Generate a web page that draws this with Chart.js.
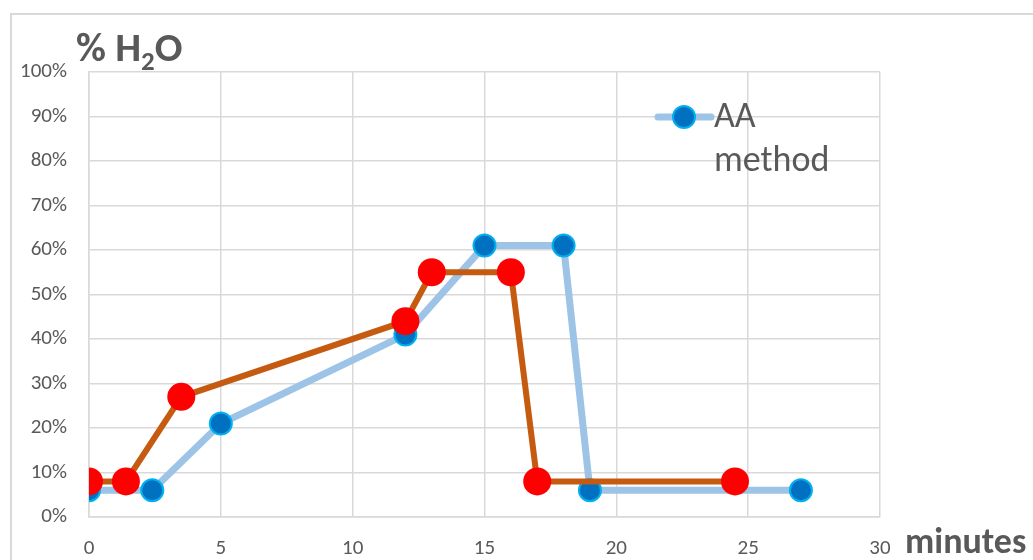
<!DOCTYPE html>
<html>
<head>
<meta charset="utf-8">
<script src="https://cdn.jsdelivr.net/npm/chart.js@4"></script>
<style>
  body { margin: 0; background: #fff; }
  #wrap { position: relative; width: 1033px; height: 560px; overflow: hidden; }
  #frame { position: absolute; left: 10px; top: 13px; width: 1100px; height: 600px; border: 2px solid #d9d9d9; box-sizing: border-box; }
  #chart { position: absolute; left: 0; top: 0; }
</style>
</head>
<body>
<div id="wrap">
  <div id="frame"></div>
  <canvas id="chart" width="1033" height="560"></canvas>
</div>
<script>
// Chart values
const aaMinutes = [0, 2.4, 5, 12, 15, 18, 19, 27];
const aaWater = [6, 6, 21, 41, 61, 61, 6, 6];
const otherMinutes = [0, 1.4, 3.5, 12, 13, 16, 17, 24.5];
const otherWater = [8, 8, 27, 44, 55, 55, 8, 8];
const xTicks = [0, 5, 10, 15, 20, 25, 30];
const yTicks = [0, 10, 20, 30, 40, 50, 60, 70, 80, 90, 100];

const FONT = 'Carlito, Lato, "Open Sans", sans-serif';
const GREY = '#595959';

function toPoints(xs, ys) {
  return xs.map((x, i) => ({ x: x, y: ys[i] }));
}

// title, axis name and in-plot legend
const extras = {
  id: 'extras',
  afterDraw(chart) {
    const ctx = chart.ctx;
    ctx.save();
    ctx.fillStyle = GREY;
    ctx.textBaseline = 'alphabetic';
    // % H2O
    ctx.font = 'bold 41px ' + FONT;
    let x = 76;
    ctx.fillText('% H', x, 61);
    x += ctx.measureText('% H').width;
    ctx.font = 'bold 27px ' + FONT;
    ctx.fillText('2', x, 70);
    x += ctx.measureText('2').width;
    ctx.font = 'bold 41px ' + FONT;
    ctx.fillText('O', x, 61);
    // minutes
    ctx.font = 'bold 36px ' + FONT;
    ctx.fillText('minutes', 905, 553);
    // legend for first dataset
    const ds = chart.data.datasets[0];
    ctx.strokeStyle = ds.borderColor;
    ctx.lineWidth = ds.borderWidth;
    ctx.lineCap = 'round';
    ctx.beginPath();
    ctx.moveTo(658, 117);
    ctx.lineTo(711, 117);
    ctx.stroke();
    ctx.beginPath();
    ctx.arc(684, 117, ds.pointRadius, 0, Math.PI * 2);
    ctx.fillStyle = ds.pointBackgroundColor;
    ctx.fill();
    ctx.lineWidth = ds.pointBorderWidth;
    ctx.strokeStyle = ds.pointBorderColor;
    ctx.stroke();
    ctx.fillStyle = GREY;
    ctx.font = '36px ' + FONT;
    ctx.textBaseline = 'middle';
    ctx.fillText('AA', 714, 118);
    ctx.fillText('method', 714, 162);
    ctx.restore();
  }
};

new Chart(document.getElementById('chart'), {
  type: 'line',
  data: {
    datasets: [
      {
        label: 'AA method',
        data: toPoints(aaMinutes, aaWater),
        borderColor: '#9dc3e6',
        borderWidth: 7,
        pointBackgroundColor: '#0070c0',
        pointBorderColor: '#00b0f0',
        pointBorderWidth: 2,
        pointRadius: 11,
        tension: 0,
        order: 2
      },
      {
        label: 'other',
        data: toPoints(otherMinutes, otherWater),
        borderColor: '#c55a11',
        borderWidth: 6,
        pointBackgroundColor: '#ff0000',
        pointBorderColor: '#ff0000',
        pointBorderWidth: 0,
        pointRadius: 14,
        tension: 0,
        order: 1
      }
    ]
  },
  options: {
    responsive: false,
    animation: false,
    layout: { padding: { top: 72, right: 153, left: 0, bottom: 0 } },
    plugins: {
      legend: { display: false },
      tooltip: { enabled: false }
    },
    scales: {
      x: {
        type: 'linear',
        min: 0,
        max: 30,
        afterFit(scale) { scale.height = 43; },
        afterBuildTicks(scale) { scale.ticks = xTicks.map(v => ({ value: v })); },
        grid: { color: '#d9d9d9', lineWidth: 1.5, drawTicks: false },
        border: { color: '#d9d9d9', width: 1.5 },
        ticks: { color: GREY, font: { family: FONT, size: 21 }, padding: 19 }
      },
      y: {
        min: 0,
        max: 100,
        afterFit(scale) { scale.width = 89; },
        afterBuildTicks(scale) { scale.ticks = yTicks.map(v => ({ value: v })); },
        grid: { color: '#d9d9d9', lineWidth: 1.5, drawTicks: false },
        border: { color: '#d9d9d9', width: 1.5 },
        ticks: {
          color: GREY,
          font: { family: FONT, size: 21 },
          padding: 22,
          callback: v => v + '%'
        }
      }
    }
  },
  plugins: [extras]
});
</script>
</body>
</html>
